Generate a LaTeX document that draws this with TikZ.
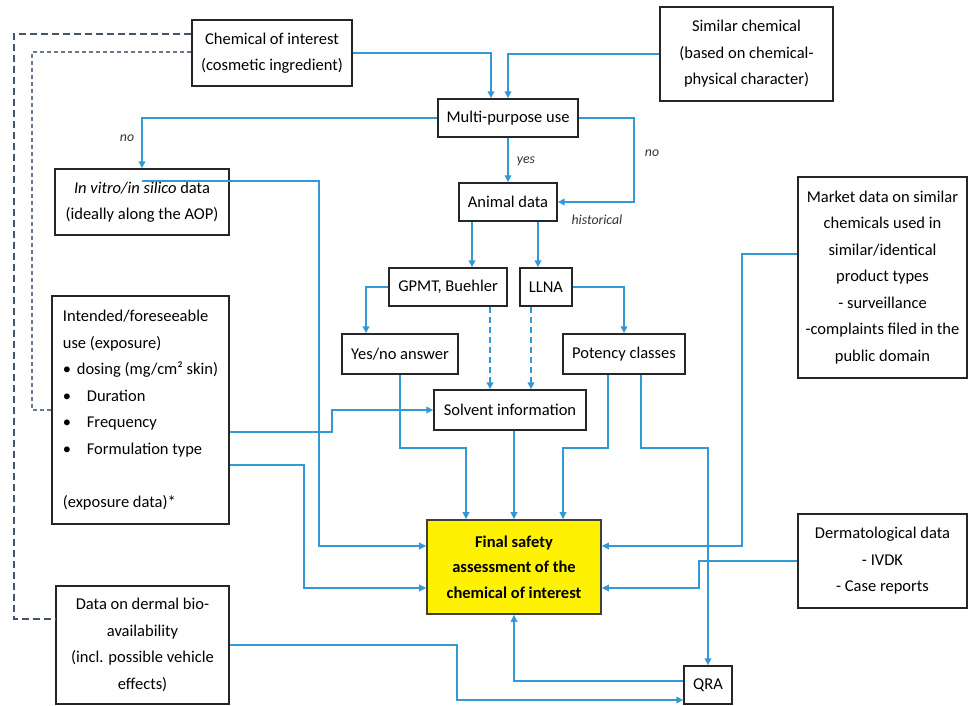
\documentclass[tikz,border=0pt]{standalone}
\usepackage{fontspec}
\setmainfont{Carlito}
\usetikzlibrary{arrows.meta,calc}
\definecolor{lineblue}{RGB}{52,152,214}
\definecolor{dashgrey}{RGB}{68,84,106}
\definecolor{dashgreyb}{RGB}{105,120,140}
\begin{document}
\begin{tikzpicture}[x=1pt,y=-1pt,
 box/.style={draw=black!85, line width=1.4pt, fill=white, inner sep=0pt, align=center, font=\fontsize{16.5}{26.5}\selectfont},
 conn/.style={draw=lineblue, line width=1.8pt, -{Triangle[length=7pt,width=6.5pt]}},
 dconn/.style={conn, dash pattern=on 6pt off 4pt},
 greyline/.style={draw=dashgrey, line width=1.4pt, dash pattern=on 7pt off 4pt},
 greylineb/.style={draw=dashgreyb, line width=1.2pt, dash pattern=on 4pt off 3pt},
 lbl/.style={font=\fontsize{13.8}{15}\selectfont\itshape, text=black!80, inner sep=0pt}
]
\useasboundingbox (0,0) rectangle (969,706);
\fill[white] (0,0) rectangle (969,706);

% nodes
\node[box, minimum width=160pt, minimum height=66pt] (chem) at (272,53) {Chemical of interest\\(cosmetic ingredient)};
\node[box, minimum width=173pt, minimum height=94pt] (simchem) at (746.5,54) {Similar chemical\\(based on chemical-\\physical character)};
\node[box, minimum width=140pt, minimum height=38pt] (mpu) at (508,118) {Multi-purpose use};
\node[box, minimum width=174pt, minimum height=66pt] (invitro) at (142,202) {\textit{In vitro/in silico} data\\(ideally along the AOP)};
\node[box, minimum width=98pt, minimum height=38pt] (animal) at (508,202) {Animal data};
\node[box, minimum width=118pt, minimum height=38pt] (gpmt) at (448,287) {GPMT, Buehler};
\node[box, minimum width=52pt, minimum height=38pt] (llna) at (546,287) {LLNA};
\node[box, minimum width=116pt, minimum height=40pt] (yesno) at (400,354) {Yes/no answer};
\node[box, minimum width=122pt, minimum height=40pt] (potency) at (624,354) {Potency classes};
\node[box, minimum width=152pt, minimum height=40pt] (solvent) at (510,410) {Solvent information};
\node[box, minimum width=169pt, minimum height=201pt] (market) at (882.5,277.5) {Market data on similar\\chemicals used in\\similar/identical\\product types\\- surveillance\\-complaints filed in the\\public domain};
\node[box, minimum width=177pt, minimum height=228pt, align=left] (intended) at (140.5,410) {Intended/foreseeable\\use (exposure)\\\makebox[14pt][l]{\textbullet}dosing (mg/cm² skin)\\\makebox[24pt][l]{\textbullet}Duration\\\makebox[24pt][l]{\textbullet}Frequency\\\makebox[24pt][l]{\textbullet}Formulation type\\\mbox{}\\(exposure data)*};
\node[box, minimum width=173pt, minimum height=118pt] (dermal) at (142.5,645) {Data on dermal bio-\\availability\\(incl. possible vehicle\\effects)};
\node[box, fill=yellow, draw=black!75, line width=1.6pt, minimum width=174pt, minimum height=94pt, font=\fontsize{16.5}{25.5}\selectfont\bfseries] (final) at (514,567) {Final safety\\assessment of the\\chemical of interest};
\node[box, minimum width=169pt, minimum height=94pt] (dermato) at (882.5,561) {Dermatological data\\- IVDK\\- Case reports};
\node[box, minimum width=48pt, minimum height=38pt] (qra) at (708,685) {QRA};

% grey dashed connectors
\draw[greyline] ([yshift=19pt]chem.west) -- ([yshift=19pt]chem.west -| 14,0) |- ([yshift=26pt]dermal.west);
\draw[greylineb] ([yshift=1pt]chem.west) -- ([yshift=1pt]chem.west -| 32,0) |- (intended.west);

% blue connectors
\draw[conn] (chem.east) -| ([xshift=-17pt]mpu.north);
\draw[conn] (simchem.west) -| (mpu.north);
\draw[conn] (mpu.west) -| (invitro.north);
\draw[conn] (mpu.south) -- (animal.north);
\draw[conn] (mpu.east) -- (mpu.east -| 634,0) |- (animal.east);
\draw[conn] ([xshift=-36pt]animal.south) -- ([xshift=-36pt]animal.south |- gpmt.north);
\draw[conn] ([xshift=30pt]animal.south) -- ([xshift=30pt]animal.south |- llna.north);
\draw[conn] (gpmt.west) -| ([xshift=-34pt]yesno.north);
\draw[conn] (llna.east) -| (potency.north);
\draw[dconn] ([xshift=42pt]gpmt.south) -- ([xshift=42pt]gpmt.south |- solvent.north);
\draw[dconn] ([xshift=-15pt]llna.south) -- ([xshift=-15pt]llna.south |- solvent.north);
\draw[conn] (yesno.south) -- ++(0,73) -| ([xshift=-48pt]final.north);
\draw[conn] (solvent.south -| final.north) -- (final.north);
\draw[conn] ([xshift=-16pt]potency.south) -- ++(0,73) -| ([xshift=49pt]final.north);
\draw[conn] ([xshift=17pt]potency.south) -- ++(0,73) -| (qra.north);
\coordinate (iv) at ([yshift=21pt]invitro.center);
\draw[conn] (iv) -- (iv -| 319,0) |- ([yshift=21pt]final.west);
\draw[conn] ([yshift=-22pt]intended.east) -- ([yshift=-22pt]intended.east -| 332,0) |- (solvent.west);
\draw[conn] ([yshift=-55pt]intended.east) -- ([yshift=-55pt]intended.east -| 304,0) |- ([yshift=-21pt]final.west);
\draw[conn] (dermal.east) -- (dermal.east -| 457,0) |- ([yshift=-15pt]qra.west);
\draw[conn] ([yshift=4pt]qra.west) -| (final.south);
\draw[conn] ([yshift=23.5pt]market.west) -- ([yshift=23.5pt]market.west -| 742,0) |- ([yshift=21pt]final.east);
\draw[conn] (dermato.west) -- (dermato.west -| 699,0) |- ([yshift=-21pt]final.east);

% labels
\node[lbl] (lno1) at (127,138) {no};
\node[lbl] (lyes) at (526,161) {yes};
\node[lbl] (lno2) at (652,153) {no};
\node[lbl] (lhist) at (597,220) {historical};
\end{tikzpicture}
\end{document}
